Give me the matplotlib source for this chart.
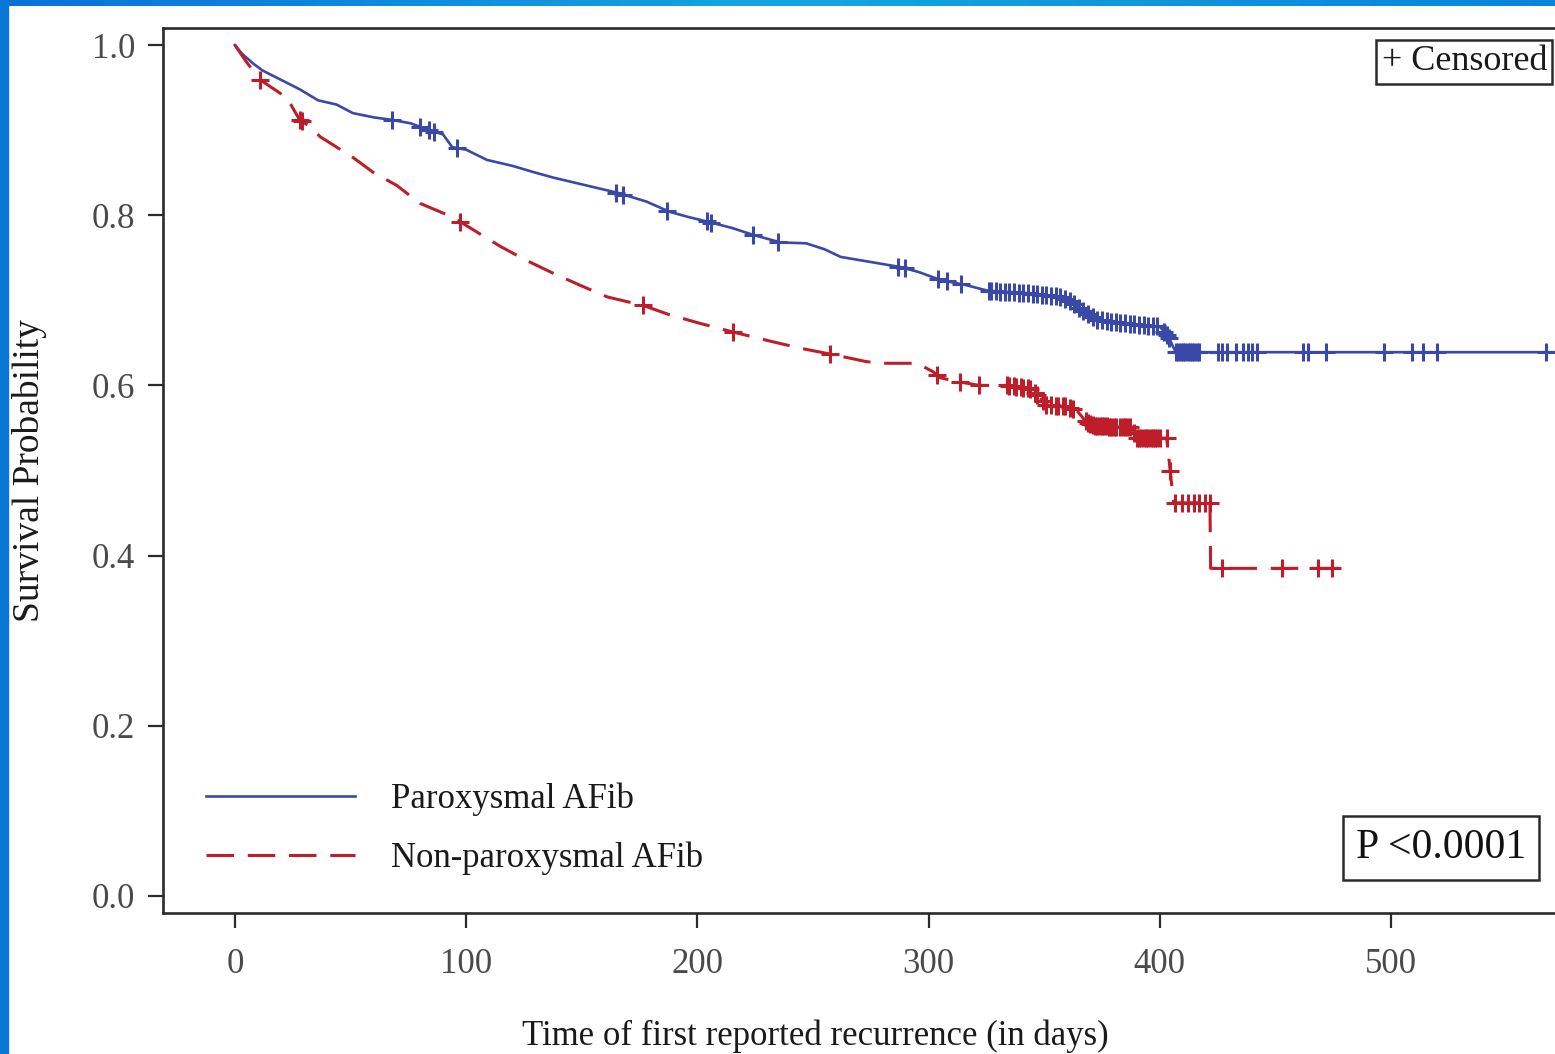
"""
Kaplan-Meier curves: Paroxysmal vs Non-paroxysmal AFib
"""

import numpy as np
import matplotlib
matplotlib.use('Agg')
import matplotlib.pyplot as plt
from matplotlib.colors import LinearSegmentedColormap

# --- data ------------------------------------------------------------------
# Paroxysmal AFib: (time, survival) knots
blue_t = [0, 3, 8, 12, 20, 28, 36, 44, 51, 60, 68, 76, 84, 90, 94, 100, 109,
          120, 130, 138, 152, 166, 178, 188, 196, 205, 215, 224, 236, 247,
          255, 262, 275, 288, 296, 305, 316, 326, 340, 357, 362, 366, 373,
          385, 400, 402, 404, 406, 407, 570]
blue_s = [1.0, 0.99, 0.978, 0.97, 0.959, 0.948, 0.935, 0.93, 0.92, 0.915,
          0.912, 0.908, 0.9, 0.895, 0.88, 0.877, 0.865, 0.858, 0.85, 0.844,
          0.835, 0.826, 0.816, 0.804, 0.798, 0.792, 0.785, 0.777, 0.768,
          0.767, 0.76, 0.751, 0.745, 0.739, 0.733, 0.724, 0.718, 0.711,
          0.709, 0.704, 0.698, 0.689, 0.677, 0.673, 0.669, 0.663, 0.656,
          0.644, 0.639, 0.639]
blue_cens = [68, 80, 84, 86, 96, 165, 168, 187, 204, 206, 224, 235, 287, 290,
             304, 308, 314, 326, 327, 329, 331, 333, 335, 337, 339, 341, 343,
             345, 347, 349, 351, 353, 355, 357, 359, 361, 363, 365, 367, 369,
             371, 373, 375, 377, 379, 381, 383, 385, 387, 389, 391, 393, 395,
             397, 399, 402, 403, 404, 407, 408, 409, 410, 411, 412, 413, 414,
             415, 416, 417, 425, 427, 429, 433, 436, 438, 440, 442, 462, 464,
             472, 497, 509, 514, 520, 567]

# Non-paroxysmal AFib
red_t = [0, 5, 11, 17, 22.5, 28, 32, 37, 44, 51, 60, 70, 80, 87, 94, 103,
         115, 126, 137.5, 149, 161, 176.5, 188, 201, 215, 230, 244, 259, 273,
         279, 295, 302, 305, 313.6, 322, 334, 344, 348, 351, 360, 364, 368.5,
         371, 381.5, 388, 390, 403, 404.5, 406, 421.7, 422, 478]
red_s = [1.0, 0.98, 0.959, 0.948, 0.938, 0.912, 0.905, 0.892, 0.88, 0.868,
         0.85, 0.835, 0.814, 0.806, 0.798, 0.783, 0.763, 0.747, 0.732, 0.718,
         0.704, 0.694, 0.683, 0.673, 0.663, 0.653, 0.644, 0.636, 0.628, 0.626,
         0.626, 0.616, 0.609, 0.604, 0.600, 0.600, 0.596, 0.586, 0.577, 0.575,
         0.571, 0.556, 0.553, 0.551, 0.551, 0.538, 0.538, 0.50, 0.462, 0.462,
         0.385, 0.385]
red_cens = [11, 28, 29, 97.5, 176.5, 215.5, 257.5, 303.6, 313.6, 322, 334,
            335, 337, 338, 340, 341, 343, 344, 346, 347, 349.5, 351, 353, 355,
            356, 358, 359, 361, 362.5, 368, 369, 370, 371, 372, 373, 374, 375,
            376, 377, 378, 379, 380, 381, 383, 384, 385, 386, 387, 389, 390,
            391, 392, 393, 394, 395, 396, 397, 398, 399, 400, 403, 404.5,
            406.6, 409.6, 412, 415, 417, 419.5, 421.7, 427, 453, 468.5, 474.5]

groups = ['Paroxysmal AFib', 'Non-paroxysmal AFib']
x_ticks = [0, 100, 200, 300, 400, 500]
y_ticks = [0.0, 0.2, 0.4, 0.6, 0.8, 1.0]

BLUE = '#3A48A8'
RED = '#BE1E2A'

plt.rcParams['font.family'] = ['Liberation Serif', 'DejaVu Serif']

fig = plt.figure(figsize=(15.55, 10.54), dpi=100)
W, H = 1555, 1054

# axes placed in pixel terms; right edge runs past the picture
ax = fig.add_axes([163 / W, 1 - 913 / H, (1585 - 163) / W, (913 - 28) / H])
ax.set_xlim(-31.1, (1585 - 235) / 2.312)
ax.set_ylim(-0.02, 1.02)

ax.plot(blue_t, blue_s, color=BLUE, lw=1.9, label=groups[0])
ax.plot(red_t, red_s, color=RED, lw=2.2, dashes=(9, 4.5), label=groups[1])

ax.plot(blue_cens, np.interp(blue_cens, blue_t, blue_s), ls='none',
        marker='+', ms=13, mew=2.2, color=BLUE)
ax.plot(red_cens, np.interp(red_cens, red_t, red_s), ls='none',
        marker='+', ms=13, mew=2.2, color=RED)

for s in ax.spines.values():
    s.set_linewidth(1.9)
    s.set_color('#2b2b2b')
ax.set_xticks(x_ticks)
ax.set_yticks(y_ticks)
ax.set_yticklabels([f'{v:.1f}' for v in y_ticks])
ax.tick_params(direction='out', length=11, width=1.6, color='#2b2b2b',
               labelsize=25, labelcolor='#4a4a4a')
ax.tick_params(axis='x', pad=14)
ax.tick_params(axis='y', pad=9)

leg = ax.legend(loc='lower left', bbox_to_anchor=(0.03, 0.043), frameon=False,
                fontsize=25, handlelength=4.3, handletextpad=1.05,
                labelspacing=0.72, borderpad=0, borderaxespad=0)
for t in leg.get_texts():
    t.set_color('#1a1a1a')

fig.text(1547 / W, 1 - 62 / H, '+ Censored', fontsize=26, ha='right',
         va='center', color='#1a1a1a',
         bbox=dict(boxstyle='square,pad=0.14', fc='white', ec='#2b2b2b', lw=1.8))
fig.text(1441 / W, 1 - 848 / H, 'P <0.0001', fontsize=30, ha='center',
         va='center', color='#111111',
         bbox=dict(boxstyle='square,pad=0.3', fc='white', ec='#2b2b2b', lw=1.8))

fig.text(815 / W, 1 - 1036 / H, 'Time of first reported recurrence (in days)',
         fontsize=25, ha='center', va='center', color='#1a1a1a')
fig.text(30 / W, 1 - 471 / H, 'Survival Probability', fontsize=27,
         rotation=90, ha='center', va='center', color='#1a1a1a')

# blue frame strips round the picture
fig.patches.append(plt.Rectangle((0, 0), 8 / W, 1, transform=fig.transFigure,
                                 color='#0A76D6', zorder=5))
top = fig.add_axes([0, 1 - 6 / H, 1, 6 / H])
cmap = LinearSegmentedColormap.from_list('frame', ['#0A70D8', '#14A6E0', '#0A84D8'])
top.imshow(np.linspace(0, 1, 256)[None, :], aspect='auto', cmap=cmap)
top.axis('off')

fig.savefig('out.png', dpi=100)
